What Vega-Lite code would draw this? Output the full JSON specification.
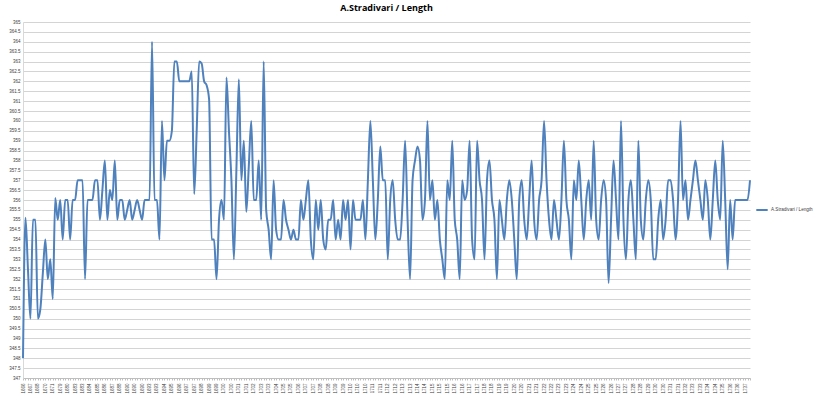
{
  "$schema": "https://vega.github.io/schema/vega-lite/v6.json",
  "width": 727,
  "height": 356,
  "autosize": "none",
  "padding": {"left": 23, "top": 22, "right": 68, "bottom": 23},
  "background": "white",
  "title": {"text": "A.Stradivari / Length", "fontSize": 9, "fontWeight": "bold", "font": "Open Sans", "color": "#000000", "anchor": "middle", "offset": 6},
  "config": {"view": {"stroke": null}, "font": "Liberation Sans"},
  "data": {"values": [
{"id":"000|1666","length":348},{"id":"001|1666","length":355.1},{"id":"002|1667","length":352.5},{"id":"003|1667","length":350},{"id":"004|1667","length":355},{"id":"005|1668","length":355},{"id":"006|1668","length":350},{"id":"007|1669","length":350.5},{"id":"008|1669","length":352.3},{"id":"009|1670","length":354},
{"id":"010|1670","length":352},{"id":"011|1670","length":353},{"id":"012|1671","length":351},{"id":"013|1672","length":356.1},{"id":"014|1677","length":355},{"id":"015|1679","length":356},{"id":"016|1679","length":354},{"id":"017|1680","length":356},{"id":"018|1680","length":356},{"id":"019|1681","length":354},
{"id":"020|1682","length":356},{"id":"021|1683","length":356},{"id":"022|1683","length":357},{"id":"023|1683","length":357},{"id":"024|1683","length":357},{"id":"025|1684","length":352},{"id":"026|1684","length":356},{"id":"027|1684","length":356},{"id":"028|1685","length":356},{"id":"029|1685","length":357},
{"id":"030|1685","length":357},{"id":"031|1685","length":355},{"id":"032|1686","length":356.5},{"id":"033|1686","length":358},{"id":"034|1686","length":355},{"id":"035|1687","length":356.5},{"id":"036|1687","length":356},{"id":"037|1687","length":358},{"id":"038|1688","length":355},{"id":"039|1688","length":356},
{"id":"040|1688","length":356},{"id":"041|1689","length":355},{"id":"042|1690","length":355.5},{"id":"043|1690","length":356},{"id":"044|1690","length":355},{"id":"045|1690","length":355.5},{"id":"046|1690","length":356},{"id":"047|1690","length":355.5},{"id":"048|1690","length":355},{"id":"049|1691","length":356},
{"id":"050|1692","length":356},{"id":"051|1693","length":356},{"id":"052|1693","length":364},{"id":"053|1693","length":356},{"id":"054|1693","length":356},{"id":"055|1694","length":354},{"id":"056|1694","length":360},{"id":"057|1694","length":357},{"id":"058|1694","length":359},{"id":"059|1695","length":359},
{"id":"060|1695","length":359.5},{"id":"061|1695","length":363},{"id":"062|1696","length":363},{"id":"063|1696","length":362},{"id":"064|1697","length":362},{"id":"065|1697","length":362},{"id":"066|1697","length":362},{"id":"067|1697","length":362},{"id":"068|1697","length":362.5},{"id":"069|1697","length":356.3},
{"id":"070|1698","length":359.5},{"id":"071|1698","length":363},{"id":"072|1698","length":362.9},{"id":"073|1698","length":362},{"id":"074|1698","length":361.8},{"id":"075|1699","length":361.1},{"id":"076|1699","length":354},{"id":"077|1699","length":354},{"id":"078|1699","length":352},{"id":"079|1699","length":355},
{"id":"080|1700","length":356},{"id":"081|1700","length":355},{"id":"082|1700","length":362.2},{"id":"083|1700","length":359.5},{"id":"084|1700","length":357},{"id":"085|1700","length":353},{"id":"086|1701","length":357.5},{"id":"087|1701","length":362.1},{"id":"088|1701","length":357},{"id":"089|1701","length":359},
{"id":"090|1701","length":355.4},{"id":"091|1702","length":357.7},{"id":"092|1702","length":360},{"id":"093|1702","length":356},{"id":"094|1702","length":356},{"id":"095|1702","length":358},{"id":"096|1703","length":355},{"id":"097|1703","length":363},{"id":"098|1703","length":355.5},{"id":"099|1703","length":354.5},
{"id":"100|1704","length":353},{"id":"101|1704","length":357},{"id":"102|1704","length":354.5},{"id":"103|1704","length":354},{"id":"104|1704","length":354},{"id":"105|1705","length":356},{"id":"106|1705","length":355},{"id":"107|1705","length":354.5},{"id":"108|1705","length":354},{"id":"109|1705","length":354.5},
{"id":"110|1706","length":354},{"id":"111|1706","length":354},{"id":"112|1706","length":356},{"id":"113|1706","length":355},{"id":"114|1707","length":356},{"id":"115|1707","length":357},{"id":"116|1707","length":354},{"id":"117|1707","length":353},{"id":"118|1707","length":356},{"id":"119|1708","length":354.5},
{"id":"120|1708","length":356},{"id":"121|1708","length":354},{"id":"122|1708","length":353.5},{"id":"123|1708","length":355},{"id":"124|1708","length":355},{"id":"125|1709","length":356},{"id":"126|1709","length":354},{"id":"127|1709","length":355},{"id":"128|1709","length":354},{"id":"129|1709","length":356},
{"id":"130|1709","length":355},{"id":"131|1709","length":356},{"id":"132|1710","length":353.5},{"id":"133|1710","length":356},{"id":"134|1710","length":355},{"id":"135|1710","length":355},{"id":"136|1710","length":355},{"id":"137|1710","length":356},{"id":"138|1710","length":354},{"id":"139|1711","length":357},
{"id":"140|1711","length":360},{"id":"141|1711","length":357},{"id":"142|1711","length":354},{"id":"143|1711","length":356},{"id":"144|1711","length":358.7},{"id":"145|1711","length":357},{"id":"146|1712","length":357},{"id":"147|1712","length":353},{"id":"148|1712","length":356},{"id":"149|1712","length":357},
{"id":"150|1712","length":355},{"id":"151|1712","length":354},{"id":"152|1712","length":354},{"id":"153|1713","length":356},{"id":"154|1713","length":359},{"id":"155|1713","length":355},{"id":"156|1713","length":352},{"id":"157|1713","length":357},{"id":"158|1713","length":358},{"id":"159|1714","length":358.7},
{"id":"160|1714","length":358},{"id":"161|1714","length":355},{"id":"162|1714","length":356},{"id":"163|1714","length":360},{"id":"164|1714","length":356},{"id":"165|1715","length":357},{"id":"166|1715","length":355},{"id":"167|1715","length":356},{"id":"168|1715","length":354},{"id":"169|1715","length":353},
{"id":"170|1715","length":352},{"id":"171|1715","length":357},{"id":"172|1716","length":356},{"id":"173|1716","length":359},{"id":"174|1716","length":355},{"id":"175|1716","length":354},{"id":"176|1716","length":352},{"id":"177|1716","length":357},{"id":"178|1716","length":356},{"id":"179|1717","length":356.5},
{"id":"180|1717","length":359},{"id":"181|1717","length":354},{"id":"182|1717","length":353},{"id":"183|1717","length":359},{"id":"184|1717","length":357},{"id":"185|1718","length":356},{"id":"186|1718","length":353},{"id":"187|1718","length":357},{"id":"188|1718","length":358},{"id":"189|1718","length":356},
{"id":"190|1718","length":355},{"id":"191|1719","length":352},{"id":"192|1719","length":356},{"id":"193|1719","length":355},{"id":"194|1719","length":354},{"id":"195|1719","length":356},{"id":"196|1719","length":357},{"id":"197|1720","length":356},{"id":"198|1720","length":354},{"id":"199|1720","length":352},
{"id":"200|1720","length":356},{"id":"201|1720","length":357},{"id":"202|1720","length":355},{"id":"203|1721","length":354},{"id":"204|1721","length":356},{"id":"205|1721","length":358},{"id":"206|1721","length":355},{"id":"207|1721","length":354},{"id":"208|1721","length":356},{"id":"209|1722","length":357},
{"id":"210|1722","length":360},{"id":"211|1722","length":357},{"id":"212|1722","length":355},{"id":"213|1722","length":354},{"id":"214|1722","length":356},{"id":"215|1723","length":355},{"id":"216|1723","length":354},{"id":"217|1723","length":356},{"id":"218|1723","length":359},{"id":"219|1723","length":356},
{"id":"220|1723","length":355},{"id":"221|1724","length":353},{"id":"222|1724","length":357},{"id":"223|1724","length":356},{"id":"224|1724","length":358},{"id":"225|1724","length":356},{"id":"226|1724","length":354},{"id":"227|1725","length":356},{"id":"228|1725","length":357},{"id":"229|1725","length":355},
{"id":"230|1725","length":359},{"id":"231|1725","length":355},{"id":"232|1725","length":354},{"id":"233|1726","length":356},{"id":"234|1726","length":357},{"id":"235|1726","length":356},{"id":"236|1726","length":351.8},{"id":"237|1726","length":355},{"id":"238|1726","length":358},{"id":"239|1727","length":356},
{"id":"240|1727","length":354},{"id":"241|1727","length":360},{"id":"242|1727","length":355},{"id":"243|1727","length":353},{"id":"244|1727","length":356},{"id":"245|1728","length":357},{"id":"246|1728","length":355},{"id":"247|1728","length":353},{"id":"248|1728","length":359},{"id":"249|1728","length":355},
{"id":"250|1729","length":354},{"id":"251|1729","length":356},{"id":"252|1729","length":357},{"id":"253|1729","length":356},{"id":"254|1729","length":353},{"id":"255|1730","length":353},{"id":"256|1730","length":355},{"id":"257|1730","length":356},{"id":"258|1730","length":354},{"id":"259|1730","length":355},
{"id":"260|1731","length":357},{"id":"261|1731","length":357},{"id":"262|1731","length":356},{"id":"263|1731","length":354},{"id":"264|1731","length":356},{"id":"265|1732","length":360},{"id":"266|1732","length":356},{"id":"267|1732","length":357},{"id":"268|1732","length":355},{"id":"269|1732","length":356},
{"id":"270|1733","length":357},{"id":"271|1733","length":358},{"id":"272|1733","length":357},{"id":"273|1733","length":356},{"id":"274|1733","length":355},{"id":"275|1734","length":357},{"id":"276|1734","length":356},{"id":"277|1734","length":354},{"id":"278|1734","length":356},{"id":"279|1734","length":358},
{"id":"280|1735","length":356},{"id":"281|1735","length":355},{"id":"282|1735","length":359},{"id":"283|1735","length":356},{"id":"284|1736","length":352.5},{"id":"285|1736","length":356},{"id":"286|1736","length":354},{"id":"287|1736","length":356},{"id":"288|1736","length":356},{"id":"289|1737","length":356},
{"id":"290|1737","length":356},{"id":"291|1737","length":356},{"id":"292|1737","length":356},{"id":"293|1737","length":357}
  ]},
  "mark": {"type": "line", "strokeWidth": 2, "interpolate": "monotone"},
  "encoding": {
    "x": {"field": "id", "type": "ordinal", "sort": null,
      "scale": {"type": "point", "padding": 0},
      "axis": {"title": null, "labelAngle": -90, "labelFontSize": 4.5, "labelColor": "#404040",
        "labelExpr": "toNumber(slice(datum.value,0,3)) % 3 == 0 ? slice(datum.value,4) : ''",
        "labelOverlap": false, "labelPadding": 3, "tickSize": 2, "tickColor": "#bfbfbf", "domainColor": "#bfbfbf", "grid": false}},
    "y": {"field": "length", "type": "quantitative",
      "scale": {"domain": [347, 365], "nice": false, "zero": false},
      "axis": {"title": null, "tickCount": 36, "format": "~g", "labelFontSize": 4.5, "labelColor": "#404040", "labelPadding": 3,
        "ticks": false, "domain": true, "domainColor": "#d9d9d9", "gridColor": "#d4d4d4", "gridWidth": 1.2, "labelFlush": false}},
    "color": {"datum": "A.Stradivari / Length", "type": "nominal",
      "scale": {"range": ["#4f81bd"]},
      "legend": {"title": null, "orient": "none", "legendX": 732, "legendY": 181, "symbolType": "stroke", "symbolStrokeWidth": 2, "symbolSize": 130, "labelOffset": 2, "labelFontSize": 4.6, "labelColor": "#404040", "labelLimit": 80}}
  }
}
